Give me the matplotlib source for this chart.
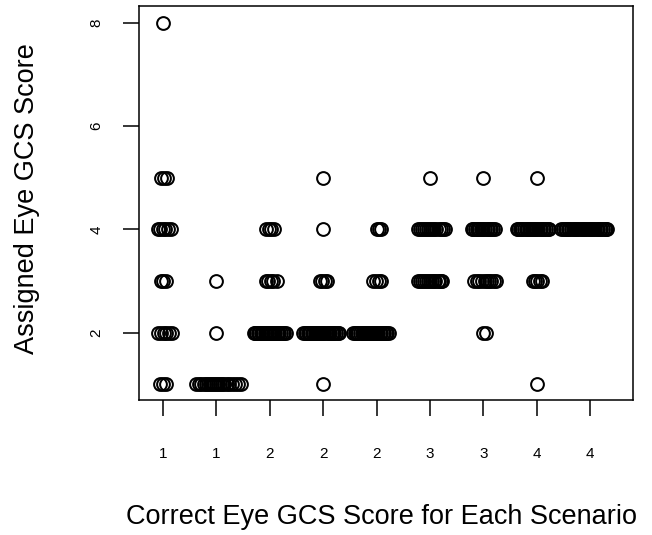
import matplotlib
matplotlib.use('Agg')
import matplotlib.pyplot as plt

plt.rcParams['font.family'] = ['Liberation Sans', 'DejaVu Sans']

# scenario positions and their correct eye GCS score (tick labels)
scenario_pos = [1, 2, 3, 4, 5, 6, 7, 8, 9]
correct_labels = ['1', '1', '2', '2', '2', '3', '3', '4', '4']

# assigned score -> horizontal jitter of each respondent, per scenario
scen1 = {8: [0.0], 5: [-0.04, 0.02, 0.07],
         4: [-0.10, -0.05, 0.0, 0.04, 0.09, 0.15],
         3: [-0.04, 0.0, 0.06],
         2: [-0.09, -0.04, 0.02, 0.06, 0.12, 0.17],
         1: [-0.05, 0.0, 0.06]}
scen2 = {3: [0.0], 2: [0.0],
         1: [-0.38, -0.33, -0.29, -0.24, -0.2, -0.16, -0.12, -0.08, -0.05, -0.01,
             0.03, 0.07, 0.11, 0.15, 0.2, 0.24, 0.29, 0.34, 0.4, 0.46]}
scen3 = {4: [-0.07, -0.02, 0.03, 0.08],
         3: [-0.07, -0.03, 0.02, 0.06, 0.13],
         2: [-0.30, -0.27, -0.25, -0.22, -0.20, -0.17, -0.15, -0.12, -0.10, -0.07,
             -0.05, -0.02, 0.0, 0.03, 0.05, 0.08, 0.10, 0.13, 0.15, 0.18,
             0.21, 0.24, 0.27, 0.30]}
scen4 = {5: [0.0], 4: [0.0],
         3: [-0.07, -0.02, 0.03, 0.07],
         2: [-0.37, -0.34, -0.32, -0.29, -0.27, -0.24, -0.21, -0.19, -0.16, -0.13,
             -0.11, -0.08, -0.06, -0.03, 0.0, 0.02, 0.05, 0.08, 0.1, 0.13,
             0.16, 0.18, 0.21, 0.24, 0.27, 0.30],
         1: [0.0]}
scen5 = {4: [0.0, 0.04, 0.09],
         3: [-0.06, -0.01, 0.04, 0.09],
         2: [-0.44, -0.41, -0.39, -0.36, -0.34, -0.31, -0.28, -0.26, -0.23, -0.2,
             -0.18, -0.15, -0.13, -0.1, -0.07, -0.05, -0.02, 0.01, 0.03, 0.06,
             0.09, 0.11, 0.14, 0.17, 0.2, 0.23]}
scen6 = {5: [0.0],
         4: [-0.22, -0.18, -0.15, -0.11, -0.07, -0.04, 0.0, 0.04, 0.08, 0.12,
             0.16, 0.2, 0.24, 0.28],
         3: [-0.22, -0.18, -0.15, -0.11, -0.08, -0.04, 0.0, 0.03, 0.07, 0.1,
             0.14, 0.17, 0.2, 0.22]}
scen7 = {5: [0.0],
         4: [-0.22, -0.19, -0.16, -0.13, -0.11, -0.08, -0.05, -0.02, 0.0, 0.03,
             0.06, 0.09, 0.12, 0.15, 0.18, 0.21],
         3: [-0.17, -0.12, -0.08, -0.03, 0.02, 0.06, 0.1, 0.15, 0.2, 0.24],
         2: [0.0, 0.04]}
scen8 = {5: [0.0],
         4: [-0.38, -0.35, -0.32, -0.29, -0.27, -0.24, -0.21, -0.18, -0.15, -0.12,
             -0.1, -0.07, -0.04, -0.01, 0.02, 0.05, 0.08, 0.11, 0.14, 0.17,
             0.2, 0.23],
         3: [-0.07, -0.03, 0.01, 0.06, 0.1],
         1: [0.0]}
scen9 = {4: [-0.54, -0.51, -0.48, -0.45, -0.42, -0.39, -0.36, -0.33, -0.3, -0.27,
             -0.24, -0.21, -0.18, -0.15, -0.12, -0.09, -0.06, -0.03, 0.0, 0.03,
             0.06, 0.09, 0.12, 0.15, 0.18, 0.21, 0.24, 0.27, 0.3, 0.32]}
scenarios = [scen1, scen2, scen3, scen4, scen5, scen6, scen7, scen8, scen9]

fig = plt.figure(figsize=(6.52, 5.35), dpi=100)
ax = fig.add_axes([139 / 652, 135 / 535, (633 - 139) / 652, (400 - 6) / 535])

# collect all points
xs, ys = [], []
for pos, scen in zip(scenario_pos, scenarios):
    for score, offsets in scen.items():
        for off in offsets:
            xs.append(pos + off)
            ys.append(score)

ax.plot(xs, ys, linestyle='none', marker='o', markersize=9.2,
        markerfacecolor='none', markeredgecolor='black', markeredgewidth=1.45)

ax.set_xlim(0.55, 9.80)
ax.set_ylim(0.70, 8.32)
ax.set_xticks(scenario_pos)
ax.set_xticklabels(correct_labels)
ax.set_yticks([2, 4, 6, 8])
ax.set_yticklabels(['2', '4', '6', '8'], rotation=90, va='center')

ax.tick_params(axis='both', direction='out', length=11.5, width=1.1,
               labelsize=11)
ax.tick_params(axis='x', pad=22)
ax.tick_params(axis='y', pad=14)
for sp in ax.spines.values():
    sp.set_linewidth(1.1)

fig.text(381 / 652, (535 - 517) / 535, 'Correct Eye GCS Score for Each Scenario',
         ha='center', va='center', fontsize=19.5)
fig.text(27 / 652, (535 - 199) / 535, 'Assigned Eye GCS Score',
         ha='center', va='center', rotation=90, fontsize=19.5)

fig.savefig('out.png', dpi=100)
